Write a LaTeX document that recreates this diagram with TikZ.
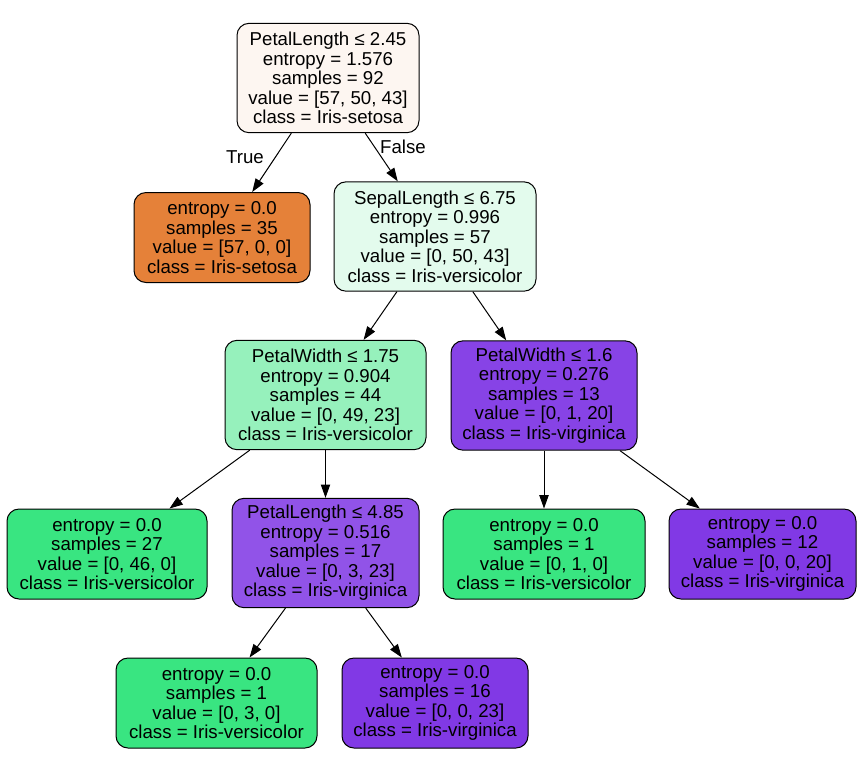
\documentclass[tikz,border=0pt]{standalone}
\usepackage{fontspec}
\setmainfont{Liberation Sans}
\usetikzlibrary{arrows.meta}
\definecolor{rootfill}{HTML}{FDF6F1}
\definecolor{setosa}{HTML}{E58139}
\definecolor{sepfill}{HTML}{E3FBED}
\definecolor{pwfill}{HTML}{96F1BC}
\definecolor{versicolor}{HTML}{39E581}
\definecolor{plfill}{HTML}{9153E8}
\definecolor{pwbfill}{HTML}{8743E6}
\definecolor{virginica}{HTML}{8139E5}
\begin{document}
\begin{tikzpicture}[x=0.75pt,y=-0.75pt,
   box/.style={draw=black, line width=0.75pt, rounded corners=9pt, align=center,
      inner sep=0pt, font=\fontsize{14}{14.6}\selectfont},
   split/.style={box, minimum height=82pt},
   leaf/.style={box, minimum height=67.5pt},
   edge/.style={-{Triangle[length=10pt,width=7pt]}, line width=0.75pt},
   elabel/.style={font=\fontsize{14}{14.6}\selectfont}]
   \useasboundingbox (0,0) rectangle (864,758);

   \node[split, fill=rootfill, minimum width=136.5pt] (root) at (328,78)
      {PetalLength ≤ 2.45\\entropy = 1.576\\samples = 92\\value = [57, 50, 43]\\class = Iris-setosa};
   \node[leaf, fill=setosa, minimum width=132pt] (set35) at (222,237.5)
      {entropy = 0.0\\samples = 35\\value = [57, 0, 0]\\class = Iris-setosa};
   \node[split, fill=sepfill, minimum width=151.5pt] (sl675) at (435,236.5)
      {SepalLength ≤ 6.75\\entropy = 0.996\\samples = 57\\value = [0, 50, 43]\\class = Iris-versicolor};

   \node[split, fill=pwfill, minimum width=150.75pt] (pw175) at (325.5,395)
      {PetalWidth ≤ 1.75\\entropy = 0.904\\samples = 44\\value = [0, 49, 23]\\class = Iris-versicolor};
   \node[split, fill=pwbfill, minimum width=139.5pt] (pw16) at (544,395.5)
      {PetalWidth ≤ 1.6\\entropy = 0.276\\samples = 13\\value = [0, 1, 20]\\class = Iris-virginica};

   \node[leaf, fill=versicolor, minimum width=150pt] (ver27) at (107,554)
      {entropy = 0.0\\samples = 27\\value = [0, 46, 0]\\class = Iris-versicolor};
   \node[split, fill=plfill, minimum width=140.25pt] (pl485) at (325.5,553)
      {PetalLength ≤ 4.85\\entropy = 0.516\\samples = 17\\value = [0, 3, 23]\\class = Iris-virginica};
   \node[leaf, fill=versicolor, minimum width=151.5pt] (ver1) at (544,554)
      {entropy = 0.0\\samples = 1\\value = [0, 1, 0]\\class = Iris-versicolor};
   \node[leaf, fill=virginica, minimum width=140.25pt] (vir12) at (762.5,554)
      {entropy = 0.0\\samples = 12\\value = [0, 0, 20]\\class = Iris-virginica};

   \node[leaf, fill=versicolor, minimum width=150.75pt] (ver3) at (216.5,703)
      {entropy = 0.0\\samples = 1\\value = [0, 3, 0]\\class = Iris-versicolor};
   \node[leaf, fill=virginica, minimum width=139.5pt] (vir16) at (435,703)
      {entropy = 0.0\\samples = 16\\value = [0, 0, 23]\\class = Iris-virginica};

   \draw[edge] (root) -- (set35) node[elabel] at (245,157) {True};
   \draw[edge] (root) -- (sl675) node[elabel] at (403,147) {False};
   \draw[edge] (sl675) -- (pw175);
   \draw[edge] (sl675) -- (pw16);
   \draw[edge] (pw175) -- (ver27);
   \draw[edge] (pw175) -- (pl485);
   \draw[edge] (pw16) -- (ver1);
   \draw[edge] (pw16) -- (vir12);
   \draw[edge] (pl485) -- (ver3);
   \draw[edge] (pl485) -- (vir16);

\end{tikzpicture}
\end{document}
